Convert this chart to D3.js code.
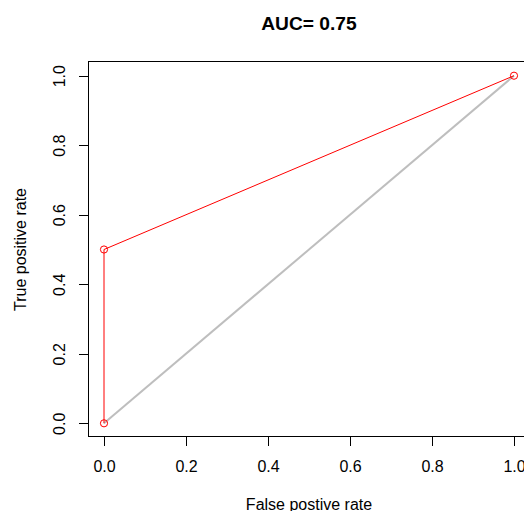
<!DOCTYPE html>
<meta charset="utf-8">
<head>
  <title>ROC</title>
  <script src="https://d3js.org/d3.v7.min.js"></script>
  <style>
    body { margin: 0; background: #fff; font-family: "Liberation Sans", Arial, sans-serif; }
    .axis path { display: none; }
    .axis line { stroke: #000; shape-rendering: crispEdges; }
    .axis text { font-size: 16px; fill: #000; font-family: "Liberation Sans", Arial, sans-serif; }
  </style>
</head>
<body>
<div id="chart"></div>
<script>
  // ROC points
  var fpr = [0, 0, 1];
  var tpr = [0, 0.5, 1];
  var diagX = [0, 1];
  var diagY = [0, 1];
  var ticks = [0, 0.2, 0.4, 0.6, 0.8, 1.0];
  var auc = 0.75;

  var W = 524, H = 511;
  var plot = {left: 87.6, right: 530.4, top: 61.8, bottom: 437.2};

  var svg = d3.select("#chart").append("svg")
      .attr("width", W)
      .attr("height", H);

  var x = d3.scaleLinear().domain([-0.04, 1.04]).range([plot.left, plot.right]);
  var y = d3.scaleLinear().domain([-0.04, 1.04]).range([plot.bottom, plot.top]);

  // x axis
  var gx = svg.append("g")
      .attr("class", "axis")
      .attr("transform", "translate(0," + plot.bottom + ")")
      .call(d3.axisBottom(x).tickValues(ticks).tickSize(9).tickFormat(d3.format(".1f")));
  gx.selectAll("text").attr("y", 35).attr("dy", null);

  // y axis
  var gy = svg.append("g")
      .attr("class", "axis")
      .attr("transform", "translate(" + plot.left + ",0)")
      .call(d3.axisLeft(y).tickValues(ticks).tickSize(9).tickFormat(d3.format(".1f")));
  gy.selectAll("text")
      .attr("x", null).attr("dy", null)
      .attr("text-anchor", "middle")
      .attr("transform", "translate(-22.6,0) rotate(-90)");

  // diagonal
  var line = d3.line().x(function(d) { return x(d[0]); }).y(function(d) { return y(d[1]); });
  svg.append("path")
      .datum(d3.zip(diagX, diagY))
      .attr("d", line)
      .attr("fill", "none")
      .attr("stroke", "#bebebe")
      .attr("stroke-width", 2);

  // ROC curve
  var pts = d3.zip(fpr, tpr);
  svg.append("path")
      .datum(pts)
      .attr("d", line)
      .attr("fill", "none")
      .attr("stroke", "#ff0000")
      .attr("stroke-width", 1);
  svg.selectAll("circle.pt")
      .data(pts)
      .enter().append("circle")
      .attr("class", "pt")
      .attr("cx", function(d) { return x(d[0]); })
      .attr("cy", function(d) { return y(d[1]); })
      .attr("r", 3.6)
      .attr("fill", "none")
      .attr("stroke", "#ff0000")
      .attr("stroke-width", 1);

  // box
  svg.append("rect")
      .attr("x", Math.round(plot.left) + 0.5)
      .attr("y", Math.round(plot.top) - 0.5)
      .attr("width", Math.round(plot.right - plot.left))
      .attr("height", Math.round(plot.bottom - plot.top))
      .attr("fill", "none")
      .attr("stroke", "#000")
      .attr("stroke-width", 1);

  // title + labels
  var cx = (plot.left + plot.right) / 2;
  svg.append("text")
      .attr("x", cx).attr("y", 30)
      .attr("text-anchor", "middle")
      .style("font-size", "19.2px").style("font-weight", "bold")
      .text("AUC= " + auc);
  svg.append("text")
      .attr("x", cx).attr("y", 510)
      .attr("text-anchor", "middle")
      .style("font-size", "16px")
      .text("False postive rate");
  svg.append("text")
      .attr("transform", "translate(26," + ((plot.top + plot.bottom) / 2) + ") rotate(-90)")
      .attr("text-anchor", "middle")
      .style("font-size", "16px")
      .text("True positive rate");
</script>
</body>
